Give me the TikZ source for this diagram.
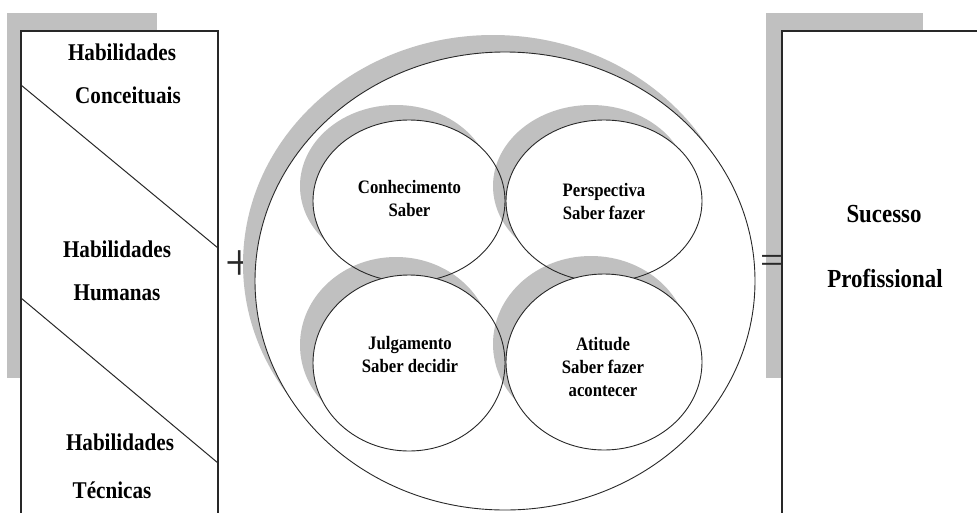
\documentclass[tikz,border=0pt]{standalone}
\usepackage{fontspec}
\setmainfont[FakeStretch=0.88]{Liberation Serif}
\definecolor{shadowgray}{RGB}{192,192,192}
\definecolor{inkline}{RGB}{40,40,40}
\begin{document}
\begin{tikzpicture}[x=1pt,y=-1pt,
  shadowfill/.style={fill=shadowgray,draw=none},
  panel/.style={fill=white,draw=inkline,line width=1.3pt},
  divider/.style={draw=inkline,line width=1pt},
  ringfill/.style={fill=white,draw=none},
  ringline/.style={draw=inkline,line width=0.9pt},
  boxtext/.style={font=\fontsize{24}{28}\selectfont\bfseries,anchor=base,inner sep=0pt},
  bigtext/.style={font=\fontsize{26}{30}\selectfont\bfseries,anchor=base,inner sep=0pt},
  circtext/.style={font=\fontsize{19}{23}\selectfont\bfseries,align=center,anchor=base,inner sep=0pt},
  opsign/.style={font=\fontsize{44}{44}\selectfont,anchor=center,inner sep=0pt,text=inkline}]
\useasboundingbox (0,0) rectangle (977,512);
\clip (0,0) rectangle (977,512);

% left panel: three kinds of skills
\fill[shadowfill] (7,13) rectangle (157,378);
\draw[panel] (21,31) rectangle (218,540);
\coordinate (d1a) at (21,85);
\coordinate (d1b) at (218,248);
\coordinate (d2a) at (21,298);
\coordinate (d2b) at (218,463);
\draw[divider] (d1a) -- (d1b);
\draw[divider] (d2a) -- (d2b);
\node[boxtext] (hab1) at (122,60) {Habilidades};
\node[boxtext] (conc) at (128,103) {Conceituais};
\node[boxtext] (hab2) at (117,257) {Habilidades};
\node[boxtext] (hum)  at (117,300) {Humanas};
\node[boxtext] (hab3) at (120,450) {Habilidades};
\node[boxtext] (tec)  at (112,498) {Técnicas};

% right panel: result
\fill[shadowfill] (766,13) rectangle (923,378);
\draw[panel] (782,31) rectangle (1000,540);
\node[bigtext] (suc)  at (884,222) {Sucesso};
\node[bigtext] (prof) at (885,287) {Profissional};

% operators between the panels and the ring
\node[opsign] (plus) at (240,266) {\scalebox{1.3}[1.2]{+}};
\node[opsign] (eq)   at (772,264) {\scalebox{1.05}[0.9]{=}};

% outer ring
\coordinate (outer) at (505,281);
\fill[shadowfill] ([shift={(-12,-17)}]outer) ellipse [x radius=250pt, y radius=229pt];
\path[ringfill] (outer) ellipse [x radius=250pt, y radius=229pt];
\draw[ringline] (outer) ellipse [x radius=250pt, y radius=229pt];

% four inner circles
\coordinate (tl) at (409,201);
\coordinate (tr) at (604,201);
\coordinate (bl) at (409,363);
\coordinate (br) at (604,362);

\fill[shadowfill] ([shift={(-13,-15)}]tl) ellipse [x radius=96pt, y radius=81pt];
\path[ringfill] (tl) ellipse [x radius=96pt, y radius=81pt];
\fill[shadowfill] ([shift={(-13,-15)}]tr) ellipse [x radius=98pt, y radius=81pt];
\path[ringfill] (tr) ellipse [x radius=98pt, y radius=81pt];
\fill[shadowfill] ([shift={(-13,-18)}]bl) ellipse [x radius=96pt, y radius=88pt];
\draw[ringline] (tl) ellipse [x radius=96pt, y radius=81pt];
\path[ringfill] (bl) ellipse [x radius=96pt, y radius=88pt];
\fill[shadowfill] ([shift={(-13,-18)}]br) ellipse [x radius=98pt, y radius=88pt];
\draw[ringline] (tr) ellipse [x radius=98pt, y radius=81pt];
\draw[ringline] (bl) ellipse [x radius=96pt, y radius=88pt];
\path[ringfill] (br) ellipse [x radius=98pt, y radius=88pt];
\draw[ringline] (br) ellipse [x radius=98pt, y radius=88pt];

% labels, anchored at the baseline of their last line
\node[circtext] (conh)  at (409.5,216) {Conhecimento\\Saber};
\node[circtext] (persp) at (604,219) {Perspectiva\\Saber fazer};
\node[circtext] (julg)  at (410,372) {Julgamento\\Saber decidir};
\node[circtext] (atit)  at (603,396) {Atitude\\Saber fazer\\acontecer};
\end{tikzpicture}
\end{document}
